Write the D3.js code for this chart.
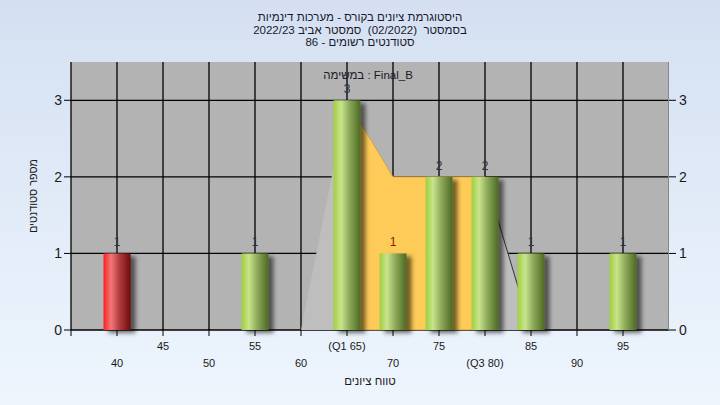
<!DOCTYPE html>
<html><head><meta charset="utf-8">
<script src="https://cdn.jsdelivr.net/npm/d3@7"></script>
<style>
html,body{margin:0;padding:0;}
svg{display:block;font-family:"Liberation Sans",Arial,sans-serif;}
</style></head><body>
<svg id="c" width="720" height="405"></svg>
<script>
// ---- data ----
const categories = [40,45,50,55,60,65,70,75,80,85,90,95];
const counts     = [1, 0, 0, 1, 0, 3, 1, 2, 2, 1, 0, 1];
const tickLabels = ["40","45","50","55","60","(Q1 65)","70","75","(Q3 80)","85","90","95"];
const failing    = [40];
const curveX     = [60,65,70,75,80,85,90,95];
const curveY     = [0, 3, 2, 2, 2, 0, 0, 0];
const q1 = 65, q3 = 80;
const yTicks     = [0,1,2,3];
const titleLines = [
  "היסטוגרמת ציונים בקורס - מערכות דינמיות",
  "בסמסטר  (02/2022)  סמסטר אביב 2022/23",
  "סטודנטים רשומים - 86"
];
const legendText = "במשימה : Final_B";
const xTitle = "טווח ציונים";
const yTitle = "מספר סטודנטים";

const svg = d3.select("#c");
const W = 720, H = 405;
const defs = svg.append("defs");
const bg = defs.append("linearGradient").attr("id","bg").attr("x1",0).attr("y1",0).attr("x2",0).attr("y2",1);
bg.append("stop").attr("offset","0%").attr("stop-color","#d4e0f2");
bg.append("stop").attr("offset","100%").attr("stop-color","#eef5fd");
svg.append("rect").attr("width",W).attr("height",H).attr("fill","url(#bg)");

function cyl(id, c0, c1, c2, c3){
  const g = defs.append("linearGradient").attr("id",id).attr("x1",0).attr("y1",0).attr("x2",1).attr("y2",0);
  g.append("stop").attr("offset","0%").attr("stop-color",c0);
  g.append("stop").attr("offset","28%").attr("stop-color",c1);
  g.append("stop").attr("offset","60%").attr("stop-color",c2);
  g.append("stop").attr("offset","100%").attr("stop-color",c3);
}
cyl("gGreen","#9fcf3f","#c9e48c","#8aa758","#4c6a22");
cyl("gRed","#ff2020","#f27878","#b03a3a","#6e0c0c");
const f = defs.append("filter").attr("id","sh").attr("x","-20%").attr("y","-10%").attr("width","160%").attr("height","130%");
f.append("feDropShadow").attr("dx",5).attr("dy",3).attr("stdDeviation",2).attr("flood-color","#000").attr("flood-opacity",0.55);

const pL = 71, pR = 669, pT = 62, pB = 330;
const x = d3.scaleLinear().domain([35,100]).range([pL,pR]);
const y = d3.scaleLinear().domain([0,3.5]).range([pB,pT]);

svg.append("rect").attr("x",pL).attr("y",pT).attr("width",pR-pL).attr("height",pB-pT).attr("fill","#b3b3b3");

// grid
const grid = svg.append("g").attr("stroke","#000").attr("stroke-width",1.3);
[35].concat(categories).forEach(v => grid.append("line").attr("x1",x(v)).attr("x2",x(v)).attr("y1",pT).attr("y2",pB));
yTicks.forEach(v => grid.append("line").attr("x1",pL).attr("x2",pR).attr("y1",y(v)).attr("y2",y(v)));
svg.append("line").attr("x1",pR-0.5).attr("x2",pR-0.5).attr("y1",pT).attr("y2",pB).attr("stroke","#888");

// curve area
const pts = curveX.map((v,i)=>[v,curveY[i]]);
const area = d3.area().x(d=>x(d[0])).y0(y(0)).y1(d=>y(d[1]));
svg.append("path").datum(pts).attr("d",area).attr("fill","#bebebe");
const mid = pts.filter(d=>d[0]>=q1 && d[0]<=q3);
svg.append("path").datum(mid).attr("d",area).attr("fill","#fecb58").attr("stroke","#b89040").attr("stroke-width",0.6);
const line = d3.line().x(d=>x(d[0])).y(d=>y(d[1]));
svg.append("path").datum(pts.filter(d=>d[0]>=q3)).attr("d",line).attr("fill","none").attr("stroke","#333").attr("stroke-width",1);

// bars
const bw = 27;
const data = categories.map((c,i)=>({c, v:counts[i], lab:tickLabels[i], i}));
svg.append("g").selectAll("rect").data(data.filter(d=>d.v>0)).join("rect")
  .attr("x",d=>x(d.c)-bw/2).attr("width",bw)
  .attr("y",d=>y(d.v)).attr("height",d=>y(0)-y(d.v))
  .attr("fill",d=>failing.includes(d.c)?"url(#gRed)":"url(#gGreen)")
  .attr("filter","url(#sh)");

// value labels
svg.append("g").selectAll("text").data(data.filter(d=>d.v>0)).join("text")
  .attr("x",d=>x(d.c)).attr("y",d=>y(d.v)-7)
  .attr("text-anchor","middle").attr("font-size",12)
  .attr("fill",d=>d.c===70?"#8a1c00":"#2a3440")
  .text(d=>d.v);

// axes ticks & labels
const ax = svg.append("g").attr("stroke","#000").attr("stroke-width",1);
categories.forEach(v=>ax.append("line").attr("x1",x(v)).attr("x2",x(v)).attr("y1",pB).attr("y2",pB+6));
ax.append("line").attr("x1",x(35)).attr("x2",x(35)).attr("y1",pB).attr("y2",pB+6);
yTicks.forEach(v=>{
  ax.append("line").attr("x1",pL-7).attr("x2",pL).attr("y1",y(v)).attr("y2",y(v));
  ax.append("line").attr("x1",pR).attr("x2",pR+7).attr("y1",y(v)).attr("y2",y(v));
});
svg.append("g").selectAll("text").data(yTicks).join("text")
  .attr("x",pL-9).attr("y",d=>y(d)+5).attr("text-anchor","end").attr("font-size",14).attr("fill","#1a1a1a").text(d=>d);
svg.append("g").selectAll("text").data(yTicks).join("text")
  .attr("x",pR+10).attr("y",d=>y(d)+5).attr("text-anchor","start").attr("font-size",14).attr("fill","#1a1a1a").text(d=>d);

svg.append("g").selectAll("text").data(data).join("text")
  .attr("x",d=>x(d.c)).attr("y",d=>d.i%2===1?350:367)
  .attr("text-anchor","middle").attr("font-size",11).attr("fill","#1a1a1a").text(d=>d.lab);

// titles
titleLines.forEach((t,i)=>svg.append("text").attr("x",360).attr("y",21+i*12.5)
  .attr("text-anchor","middle").attr("direction","rtl").style("white-space","pre")
  .attr("font-size",11.5).attr("fill","#1a1a2a").text(t));
svg.append("text").attr("x",368).attr("y",79).attr("text-anchor","middle").attr("font-size",11.5).attr("fill","#1a1a2a").text(legendText);
svg.append("text").attr("x",370).attr("y",385).attr("text-anchor","middle").attr("direction","rtl").attr("font-size",11.5).attr("fill","#1a1a1a").text(xTitle);
svg.append("text").attr("transform","translate(37,196) rotate(-90)").attr("text-anchor","middle").attr("font-size",11)
  .attr("textLength",74).attr("lengthAdjust","spacingAndGlyphs").attr("fill","#1a1a1a").text(yTitle);
</script>
</body></html>
